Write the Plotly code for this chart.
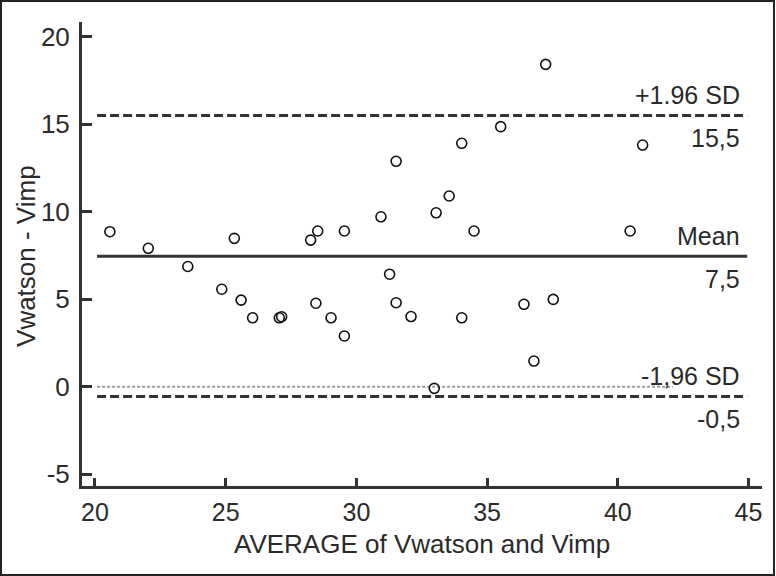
import plotly.graph_objects as go

# Data (Bland-Altman plot)
avg_vals = [20.57, 22.04, 23.55, 24.85, 25.33, 25.59, 26.03, 27.05, 27.14, 28.25,
            28.52, 28.45, 29.03, 29.54, 29.54, 30.94, 31.27, 31.52, 31.52, 32.09,
            33.05, 32.98, 33.55, 34.03, 34.03, 34.50, 35.52, 36.41, 36.79, 37.24,
            37.53, 40.47, 40.95]
diff_vals = [8.86, 7.91, 6.87, 5.57, 8.48, 4.95, 3.94, 3.94, 4.00, 8.38,
             8.90, 4.77, 3.94, 8.90, 2.90, 9.71, 6.43, 12.88, 4.80, 4.01,
             9.94, -0.09, 10.90, 13.91, 3.94, 8.90, 14.86, 4.71, 1.47, 18.42,
             4.99, 8.90, 13.81]

mean_val = 7.45
upper_val = 15.5
lower_val = -0.55
zero_val = 0.0
line_x = [20.08, 44.95]
zero_x = [20.08, 42.1]

upper_labels = ["+1.96 SD", "15,5"]
mean_labels = ["Mean", "7,5"]
lower_labels = ["-1,96 SD", "-0,5"]

x_ticks = [20, 25, 30, 35, 40, 45]
y_ticks = [-5, 0, 5, 10, 15, 20]

FONT = "Liberation Sans, Arial, sans-serif"
TXT = "#2a2a2a"
AX = "#333333"

fig = go.Figure()

# zero reference (dotted grey)
fig.add_trace(go.Scatter(x=zero_x, y=[zero_val, zero_val], mode="lines",
                         line=dict(color="#9a9a9a", width=2, dash="3px,2px"),
                         hoverinfo="skip"))
# limits of agreement
for val in (upper_val, lower_val):
    fig.add_trace(go.Scatter(x=line_x, y=[val, val], mode="lines",
                             line=dict(color=AX, width=3, dash="9px,4px"),
                             hoverinfo="skip"))
# mean
fig.add_trace(go.Scatter(x=line_x, y=[mean_val, mean_val], mode="lines",
                         line=dict(color=AX, width=3), hoverinfo="skip"))
# points
fig.add_trace(go.Scatter(x=avg_vals, y=diff_vals, mode="markers",
                         marker=dict(symbol="circle-open", size=10, color="#111111",
                                     line=dict(width=1.6))))

label_x = 44.75
for val, labs in ((upper_val, upper_labels), (mean_val, mean_labels), (lower_val, lower_labels)):
    fig.add_annotation(x=label_x, y=val, xref="x", yref="y", text=labs[0],
                       showarrow=False, xanchor="right", yanchor="middle", yshift=20,
                       font=dict(family=FONT, size=25, color=TXT))
    fig.add_annotation(x=label_x, y=val, xref="x", yref="y", text=labs[1],
                       showarrow=False, xanchor="right", yanchor="middle", yshift=-23,
                       font=dict(family=FONT, size=25, color=TXT))

# axis titles
fig.add_annotation(x=0.5, y=-0.126, xref="paper", yref="paper",
                   text="AVERAGE of Vwatson and Vimp", showarrow=False,
                   xanchor="center", yanchor="middle",
                   font=dict(family=FONT, size=26, color=TXT))
fig.add_annotation(x=-0.0824, y=0.4957, xref="paper", yref="paper",
                   text="Vwatson - Vimp", showarrow=False, textangle=-90,
                   xanchor="center", yanchor="middle",
                   font=dict(family=FONT, size=26, color=TXT))

# outer frame
fig.add_shape(type="rect", xref="paper", yref="paper",
              x0=-0.1191, x1=1.0176, y0=-0.1918, y1=1.0453,
              line=dict(color="#222222", width=2), layer="above")

fig.update_layout(
    width=776, height=576,
    margin=dict(l=82, r=14, t=22, b=90),
    paper_bgcolor="white", plot_bgcolor="white",
    showlegend=False,
    font=dict(family=FONT, color=TXT),
    xaxis=dict(range=[19.503, 45.516], tickvals=x_ticks, ticktext=[str(v) for v in x_ticks],
               showgrid=False, zeroline=False, showline=True, linewidth=3, linecolor=AX,
               ticks="inside", ticklen=8, tickwidth=3, tickcolor=AX,
               ticklabelstandoff=2,
               tickfont=dict(family=FONT, size=25, color=TXT)),
    yaxis=dict(range=[-5.67, 20.84], tickvals=y_ticks, ticktext=[str(v) for v in y_ticks],
               showgrid=False, zeroline=False, showline=True, linewidth=3, linecolor=AX,
               ticks="inside", ticklen=10, tickwidth=3, tickcolor=AX,
               ticklabelstandoff=4,
               tickfont=dict(family=FONT, size=26, color=TXT)),
)

fig.write_html("out.html", config={"displayModeBar": False},
               post_script="document.body.style.margin='0';document.body.style.overflow='hidden';")
